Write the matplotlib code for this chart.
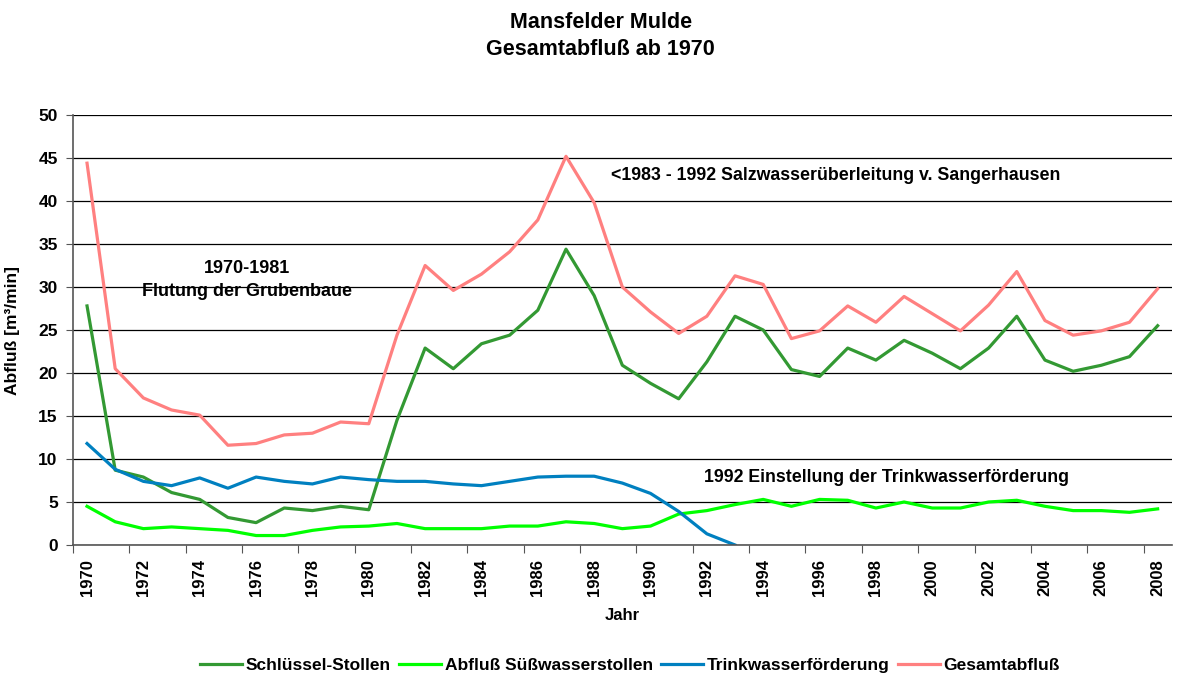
import numpy as np
import matplotlib.pyplot as plt

plt.rcParams['font.family'] = ['Liberation Sans', 'DejaVu Sans']
plt.rcParams['font.weight'] = 'bold'

### data ###

jahre = np.arange(1970, 2009)

schluessel = [27.8, 8.7, 7.9, 6.1, 5.3, 3.2, 2.6, 4.3, 4.0, 4.5,
              4.1, 14.5, 22.9, 20.5, 23.4, 24.4, 27.3, 34.4, 29.0, 20.9,
              18.8, 17.0, 21.3, 26.6, 25.0, 20.4, 19.6, 22.9, 21.5, 23.8,
              22.3, 20.5, 22.9, 26.6, 21.5, 20.2, 20.9, 21.9, 25.5]

suesswasser = [4.5, 2.7, 1.9, 2.1, 1.9, 1.7, 1.1, 1.1, 1.7, 2.1,
               2.2, 2.5, 1.9, 1.9, 1.9, 2.2, 2.2, 2.7, 2.5, 1.9,
               2.2, 3.6, 4.0, 4.7, 5.3, 4.5, 5.3, 5.2, 4.3, 5.0,
               4.3, 4.3, 5.0, 5.2, 4.5, 4.0, 4.0, 3.8, 4.2]

trinkwasser = [11.8, 8.8, 7.4, 6.9, 7.8, 6.6, 7.9, 7.4, 7.1, 7.9,
               7.6, 7.4, 7.4, 7.1, 6.9, 7.4, 7.9, 8.0, 8.0, 7.2,
               6.0, 3.9, 1.3, 0.0] + [np.nan]*15

gesamt = [44.4, 20.5, 17.1, 15.7, 15.1, 11.6, 11.8, 12.8, 13.0, 14.3,
          14.1, 24.4, 32.5, 29.6, 31.5, 34.1, 37.8, 45.2, 39.8, 30.0,
          27.1, 24.6, 26.6, 31.3, 30.3, 24.0, 24.9, 27.8, 25.9, 28.9,
          26.9, 24.9, 27.9, 31.8, 26.1, 24.4, 24.9, 25.9, 29.8]

### plot ###

fig = plt.figure(figsize=(11.92, 6.75), dpi=100)
ax = fig.add_axes([0.0612, 0.1926, 0.9218, 0.637])

x = np.arange(len(jahre))
ax.plot(x, schluessel, color="#339933", lw=2.3, label="Schlüssel-Stollen")
ax.plot(x, suesswasser, color="#00ff00", lw=2.3, label="Abfluß Süßwasserstollen")
ax.plot(x, trinkwasser, color="#0080c0", lw=2.3, label="Trinkwasserförderung")
ax.plot(x, gesamt, color="#ff8080", lw=2.3, label="Gesamtabfluß")

ax.set_xlim(-0.5, len(jahre) - 0.5)
ax.set_ylim(0, 50)
ax.set_yticks(np.arange(0, 51, 5))
ax.yaxis.grid(True, color="black", lw=0.9)
ax.set_axisbelow(True)
ax.tick_params(axis="y", direction="out", length=5, labelsize=12.5, pad=6, color="#555555")

ax.set_xticks(np.arange(-0.5, len(jahre), 2))
ax.set_xticklabels([])
ax.set_xticks(x[::2], minor=True)
ax.set_xticklabels([str(j) for j in jahre[::2]], minor=True, rotation=90, fontsize=12)
ax.tick_params(axis="x", which="major", direction="out", length=6, color="#555555")
ax.tick_params(axis="x", which="minor", length=0, pad=10)

for s in ["top", "right"]:
    ax.spines[s].set_visible(False)
ax.spines["left"].set_color("#555555")
ax.spines["bottom"].set_color("#555555")
ax.spines["left"].set_linewidth(1.2)
ax.spines["bottom"].set_linewidth(1.2)

ax.set_ylabel("Abfluß [m³/min]", fontsize=12.5, fontweight="bold")
ax.yaxis.set_label_coords(-0.048, 0.5)
ax.set_xlabel("Jahr", fontsize=12, fontweight="bold", labelpad=9)

fig.suptitle("Mansfelder Mulde\nGesamtabfluß ab 1970", x=0.504, y=0.982,
             fontsize=15.5, fontweight="bold", linespacing=1.35)

ax.text(5.67, 30.8, "1970-1981\nFlutung der Grubenbaue", ha="center", va="center",
        fontsize=13, fontweight="bold", linespacing=1.45)
ax.text(18.6, 43.0, "<1983 - 1992 Salzwasserüberleitung v. Sangerhausen", ha="left",
        va="center", fontsize=12.8, fontweight="bold")
ax.text(21.9, 7.8, "1992 Einstellung der Trinkwasserförderung", ha="left",
        va="center", fontsize=12.8, fontweight="bold")

fig.legend(loc="center", bbox_to_anchor=(0.5285, 0.014), ncol=4, frameon=False,
           fontsize=12.5, handlelength=2.4, handletextpad=0.2, columnspacing=0.5)

fig.savefig("out.png", dpi=100)
